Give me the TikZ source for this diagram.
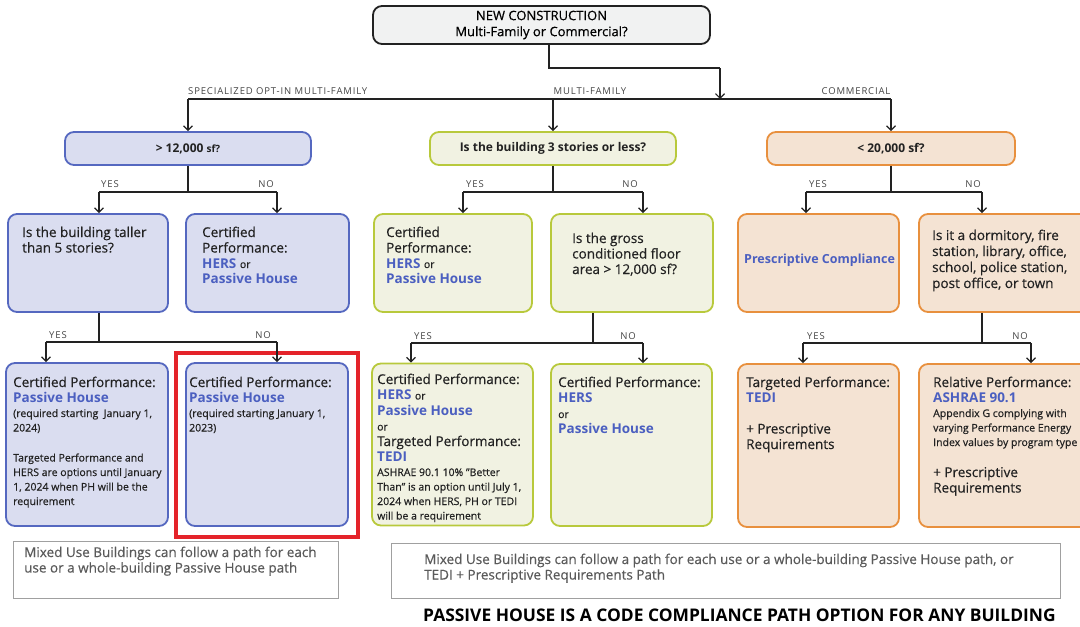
\documentclass[tikz,border=0pt]{standalone}
\usepackage{fontspec}
\setmainfont{Open Sans}[UprightFeatures={FakeBold=0.5}]
\newfontfamily\capsfont{Open Sans}[LetterSpace=9]
\usetikzlibrary{arrows.meta}
\definecolor{bluefill}{HTML}{DADDF0}
\definecolor{blueline}{HTML}{5568C0}
\definecolor{greenfill}{HTML}{F1F2E2}
\definecolor{greenline}{HTML}{B8C93C}
\definecolor{orangefill}{HTML}{F4E3D3}
\definecolor{orangeline}{HTML}{E8903E}
\definecolor{topfill}{HTML}{F1F2F2}
\definecolor{pathblue}{HTML}{4B5FC0}
\definecolor{inkdark}{HTML}{222222}
\definecolor{taggray}{HTML}{444444}
\definecolor{notegray}{HTML}{5A5A5A}
\definecolor{noteline}{HTML}{A0A0A0}
\definecolor{markred}{HTML}{E4232A}
\newcommand{\bodyfont}{\fontsize{13.5}{15.5}\selectfont}
\newcommand{\finefont}{\fontsize{10.5}{14.5}\selectfont}
\newcommand{\pname}[1]{{\bfseries\color{pathblue}#1}}

\begin{document}
\begin{tikzpicture}[x=1pt, y=-1pt,
	box/.style={rounded corners=9pt, line width=1.8pt, inner sep=0pt},
	topbox/.style={box, draw=inkdark, fill=topfill, align=center, font=\fontsize{13}{16}\selectfont},
	bluebox/.style={box, draw=blueline, fill=bluefill},
	greenbox/.style={box, draw=greenline, fill=greenfill},
	orangebox/.style={box, draw=orangeline, fill=orangefill},
	askfont/.style={font=\bfseries\fontsize{12}{14}\selectfont, text=inkdark},
	conn/.style={draw=inkdark, line width=1.2pt},
	arr/.style={conn, -{Straight Barb[length=4.5pt, width=9pt]}},
	tag/.style={font=\capsfont\fontsize{9.5}{10}\selectfont, text=taggray, inner sep=0pt},
	txt/.style={anchor=base west, inner sep=0pt, text=inkdark},
	note/.style={draw=noteline, line width=1pt, inner sep=0pt},
	notetxt/.style={anchor=base west, inner sep=0pt, text=notegray, font=\fontsize{13.5}{15.5}\selectfont}]
	\useasboundingbox (0,0) rectangle (1080,627);
	\clip (0,0) rectangle (1080,627);

	\node[topbox, minimum width=337, minimum height=38] (top) at (541.5,25) {NEW CONSTRUCTION\\Multi-Family or Commercial?};

	\node[bluebox, askfont, minimum width=246, minimum height=33] (b1) at (188,148.5) {> 12,000 {\fontsize{10}{12}\selectfont sf?}};
	\node[greenbox, askfont, minimum width=246, minimum height=33] (g1) at (553,148.5) {Is the building 3 stories or less?};
	\node[orangebox, askfont, minimum width=248, minimum height=33] (o1) at (891,148.5) {< 20,000 sf?};

	\node[bluebox, minimum width=160, minimum height=98] (b2a) at (88,263) {};
	\node[bluebox, minimum width=163, minimum height=98] (b2b) at (267.5,263) {};
	\node[greenbox, minimum width=158, minimum height=98] (g2a) at (453,263) {};
	\node[greenbox, minimum width=162, minimum height=98] (g2b) at (632,263) {};
	\node[orangebox, minimum width=161, minimum height=98] (o2a) at (818.5,263) {};
	\node[orangebox, minimum width=176, minimum height=98] (o2b) at (1007,263) {};

	\node[bluebox, minimum width=162, minimum height=163] (b3a) at (87,444.5) {};
	\node[bluebox, minimum width=162, minimum height=163] (b3b) at (267,444.5) {};
	\node[greenbox, minimum width=161, minimum height=162] (g3a) at (452.5,444.5) {};
	\node[greenbox, minimum width=161, minimum height=162] (g3b) at (631.5,445) {};
	\node[orangebox, minimum width=161, minimum height=163] (o3a) at (818.5,445.5) {};
	\node[orangebox, minimum width=176, minimum height=163] (o3b) at (1007,445.5) {};

	\node[txt] (b2a-t) at (22,237) {\parbox[t]{145pt}{\bodyfont Is the building taller\\than 5 stories?}};
	\node[txt] (b2b-t) at (202,237) {\parbox[t]{145pt}{\bodyfont Certified\\Performance:\par \pname{HERS} {\finefont or}\par \pname{Passive House}}};
	\node[txt] (g2a-t) at (386,237) {\parbox[t]{145pt}{\bodyfont Certified\\Performance:\par \pname{HERS} {\finefont or}\par \pname{Passive House}}};
	\node[txt] (g2b-t) at (572,243) {\parbox[t]{145pt}{\fontsize{13.5}{15.5}\selectfont Is the gross\\conditioned floor\\area > 12,000 sf?}};
	\node[txt, font=\bfseries\fontsize{12.5}{15}\selectfont, text=pathblue] (o2a-t) at (744,263) {Prescriptive Compliance};
	\node[txt] (o2b-t) at (932,240) {\parbox[t]{150pt}{\fontsize{13.5}{16}\selectfont Is it a dormitory, fire\\station, library, office,\\school, police station,\\post office, or town}};

	\node[txt] (b3a-t) at (13,387) {\parbox[t]{160pt}{\bodyfont Certified Performance:\par \pname{Passive House}\par \finefont (required starting~ January 1,\\2024)\\[15.5pt]Targeted Performance and\\HERS are options until January\\1, 2024 when PH will be the\\requirement}};
	\node[txt] (b3b-t) at (189,387) {\parbox[t]{160pt}{\bodyfont Certified Performance:\par \pname{Passive House}\par \finefont (required starting January 1,\\2023)}};
	\node[txt] (g3a-t) at (377,384) {\parbox[t]{160pt}{\bodyfont Certified Performance:\par \pname{HERS} {\finefont or}\par \pname{Passive House}\par {\finefont or}\par Targeted Performance:\par \pname{TEDI}\par \finefont ASHRAE 90.1 10\% "Better\\Than" is an option until July 1,\\2024 when HERS, PH or TEDI\\will be a requirement}};
	\node[txt] (g3b-t) at (558,387) {\parbox[t]{160pt}{\bodyfont Certified Performance:\par \pname{HERS}\par {\finefont or}\par \pname{Passive House}}};
	\node[txt] (o3a-t) at (746,387) {\parbox[t]{160pt}{\bodyfont Targeted Performance:\par \pname{TEDI}\par\vspace{15.5pt}+ Prescriptive\\Requirements}};
	\node[txt] (o3b-t) at (933,387) {\parbox[t]{170pt}{\bodyfont Relative Performance:\par \pname{ASHRAE 90.1}\par \finefont Appendix G complying with\\varying Performance Energy\\Index values by program type\par\vspace{15.5pt}\bodyfont + Prescriptive\\Requirements}};

	\draw[markred, line width=4pt] (176,353) rectangle (358,537);

	\coordinate (bend) at (720,68);
	\coordinate (split) at (720,99);
	\coordinate (specl) at (188,99);
	\coordinate (comr) at (891,99);
	\draw[conn] ([xshift=7.5]top.south) |- (bend);
	\draw[arr] (bend) -- (split);
	\draw[conn] (specl) -- (comr);
	\draw[arr] (specl) -- (b1.north);
	\draw[arr] (g1.north |- specl) -- (g1.north);
	\draw[arr] (comr) -- (o1.north);
	\node[tag, anchor=base west] (lbl-spec) at (188,94) {SPECIALIZED OPT-IN MULTI-FAMILY};
	\node[tag, anchor=base] (lbl-mf) at (590,94) {MULTI-FAMILY};
	\node[tag, anchor=base] (lbl-com) at (856,94) {COMMERCIAL};

	\coordinate (b1y) at (99,192);
	\coordinate (b1n) at (277,192);
	\coordinate (g1y) at (463,192);
	\coordinate (g1n) at (643,192);
	\coordinate (o1y) at (806,192);
	\coordinate (o1n) at (982,192);
	\draw[conn] (b1.south) -- (b1.south |- b1y);
	\draw[conn] (g1.south) -- (g1.south |- g1y);
	\draw[conn] (o1.south) -- (o1.south |- o1y);
	\draw[conn] (b1y) -- (b1n);
	\draw[conn] (g1y) -- (g1n);
	\draw[conn] (o1y) -- (o1n);
	\draw[arr] (b1y) -- (b1y |- b2a.north);
	\draw[arr] (b1n) -- (b1n |- b2b.north);
	\draw[arr] (g1y) -- (g1y |- g2a.north);
	\draw[arr] (g1n) -- (g1n |- g2b.north);
	\draw[arr] (o1y) -- (o1y |- o2a.north);
	\draw[arr] (o1n) -- (o1n |- o2b.north);
	\node[tag] (b1-yes) at (110,184) {YES};
	\node[tag] (b1-no) at (266,184) {NO};
	\node[tag] (g1-yes) at (475,184) {YES};
	\node[tag] (g1-no) at (630,184) {NO};
	\node[tag] (o1-yes) at (818,184) {YES};
	\node[tag] (o1-no) at (973,184) {NO};

	\coordinate (b2m) at (99,342);
	\coordinate (b2y) at (46,342);
	\coordinate (b2n) at (277,342);
	\coordinate (g2m) at (593,343);
	\coordinate (g2y) at (411,343);
	\coordinate (g2n) at (643,343);
	\coordinate (o2m) at (982,343);
	\coordinate (o2y) at (803,343);
	\coordinate (o2n) at (1031,343);
	\draw[conn] (b2m |- b2a.south) -- (b2m);
	\draw[conn] (g2m |- g2b.south) -- (g2m);
	\draw[conn] (o2m |- o2b.south) -- (o2m);
	\draw[conn] (b2y) -- (b2n);
	\draw[conn] (g2y) -- (g2n);
	\draw[conn] (o2y) -- (o2n);
	\draw[arr] (b2y) -- (b2y |- b3a.north);
	\draw[arr] (b2n) -- (b2n |- b3b.north);
	\draw[arr] (g2y) -- (g2y |- g3a.north);
	\draw[arr] (g2n) -- (g2n |- g3b.north);
	\draw[arr] (o2y) -- (o2y |- o3a.north);
	\draw[arr] (o2n) -- (o2n |- o3b.north);
	\node[tag] (b2-yes) at (58,335) {YES};
	\node[tag] (b2-no) at (263,335) {NO};
	\node[tag] (g2-yes) at (423,336) {YES};
	\node[tag] (g2-no) at (628,336) {NO};
	\node[tag] (o2-yes) at (816,336) {YES};
	\node[tag] (o2-no) at (1020,336) {NO};

	\node[note, minimum width=325, minimum height=57] (note1) at (175.5,569.5) {};
	\node[note, minimum width=669, minimum height=55] (note2) at (725.5,570.5) {};
	\node[notetxt] (note1-t) at (24,557) {\parbox[t]{310pt}{Mixed Use Buildings can follow a path for each\\use or a whole-building Passive House path}};
	\node[notetxt] (note2-t) at (424,564) {\parbox[t]{630pt}{Mixed Use Buildings can follow a path for each use or a whole-building Passive House path, or\\TEDI + Prescriptive Requirements Path}};
	\node[anchor=base west, inner sep=0pt, text=black, font=\bfseries\fontsize{17.4}{20}\selectfont] (motto) at (423,621) {PASSIVE HOUSE IS A CODE COMPLIANCE PATH OPTION FOR ANY BUILDING};
\end{tikzpicture}
\end{document}
